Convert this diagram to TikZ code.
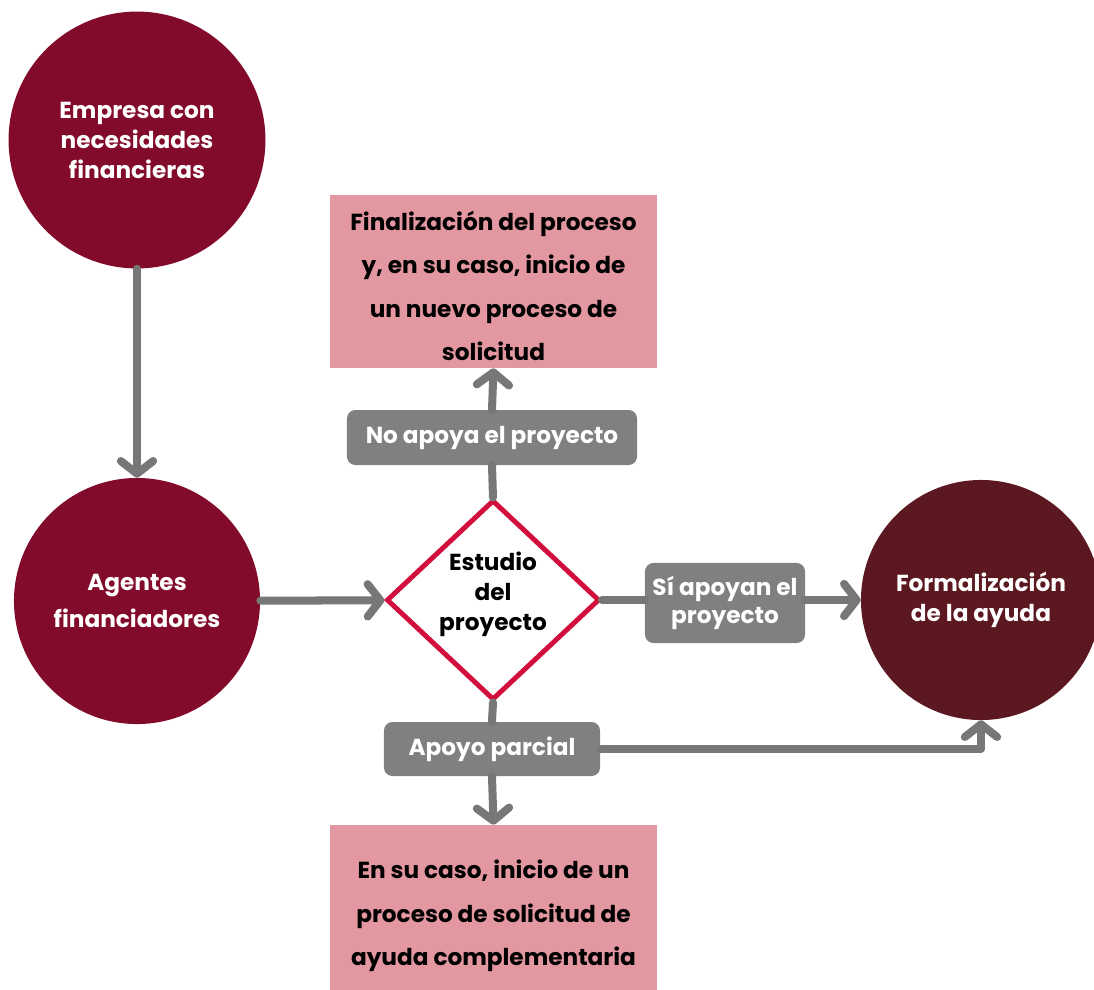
\documentclass[tikz,border=0pt]{standalone}
\usepackage{fontspec}
\setmainfont{Poppins}
\usetikzlibrary{arrows.meta}
\usetikzlibrary{shapes.geometric}
\definecolor{granate}{HTML}{820A2A}
\definecolor{vino}{HTML}{5C1820}
\definecolor{rosa}{HTML}{E397A0}
\definecolor{carmin}{HTML}{D20F3C}
\definecolor{grislinea}{HTML}{777777}
\definecolor{grisetiq}{HTML}{808080}

\begin{document}
\begin{tikzpicture}[x=0.025cm, y=-0.025cm,
    font=\fontsize{16.5}{21.3}\selectfont\bfseries,
    circulo/.style={circle, fill=granate, text=white, align=center, inner sep=0pt},
    caja/.style={rectangle, fill=rosa, align=center, inner sep=0pt,
        minimum width=8.175cm, font=\fontsize{16.5}{31}\selectfont\bfseries},
    etiqueta/.style={rectangle, rounded corners=6pt, fill=grisetiq, text=white,
        align=center, inner sep=0pt, font=\fontsize{16.5}{20}\selectfont\bfseries},
    linea/.style={draw=grislinea, line width=5.7pt, line cap=round, line join=round},
    flecha/.style={linea, -{Straight Barb[length=9pt, width=23pt, round]}}]
    \useasboundingbox (0,0) rectangle (1094,989);

    \node[circulo, minimum size=6.42cm] (empresa) at (137,140)
        {Empresa con\\necesidades\\financieras};
    \node[circulo, minimum size=6.15cm] (agentes) at (137,601)
        {Agentes\\[5pt]financiadores};
    \node[circulo, fill=vino, minimum size=6cm] (formal) at (981,600)
        {Formalización\\de la ayuda};
    \node[diamond, draw=carmin, line width=3.5pt, fill=white, inner sep=0pt,
        minimum width=5.325cm, minimum height=5cm] (estudio) at (493,600) {};
    \node[align=center] (estudiotxt) at (493,594) {Estudio\\del\\proyecto};
    \node[caja, minimum height=4.325cm] (fin) at (493.5,281.5) {};
    \node[align=center, font=\fontsize{16.5}{31}\selectfont\bfseries] (fintxt) at (493.5,286)
        {Finalización del proceso\\y, en su caso, inicio de\\un nuevo proceso de\\solicitud};
    \node[caja, minimum height=4.55cm] (solic) at (493.5,916)
        {En su caso, inicio de un\\proceso de solicitud de\\ayuda complementaria};
    \node[etiqueta, minimum width=7.25cm, minimum height=1.375cm] (noapoya) at (492,437.5)
        {No apoya el proyecto};
    \node[etiqueta, minimum width=4cm, minimum height=2cm] (siapoyan) at (725,603)
        {Sí apoyan el\\proyecto};
    \node[etiqueta, minimum width=5.4cm, minimum height=1.35cm] (parcial) at (492,749)
        {Apoyo parcial};

    \draw[flecha] (empresa) -- (agentes);
    \draw[flecha] (agentes) -- (estudio);
    \draw[linea] (estudio.north) -- (noapoya.south);
    \draw[flecha] (noapoya.north) -- (fin.south);
    \draw[linea] (estudio.east) -- (estudio.east -| siapoyan.west);
    \draw[flecha] (estudio.east -| siapoyan.east) -- (formal.west);
    \draw[linea] (estudio.south) -- (parcial.north);
    \draw[flecha] (parcial.south) -- (solic.north);
    \draw[flecha] (parcial.east) -| (formal.south);
\end{tikzpicture}
\end{document}
